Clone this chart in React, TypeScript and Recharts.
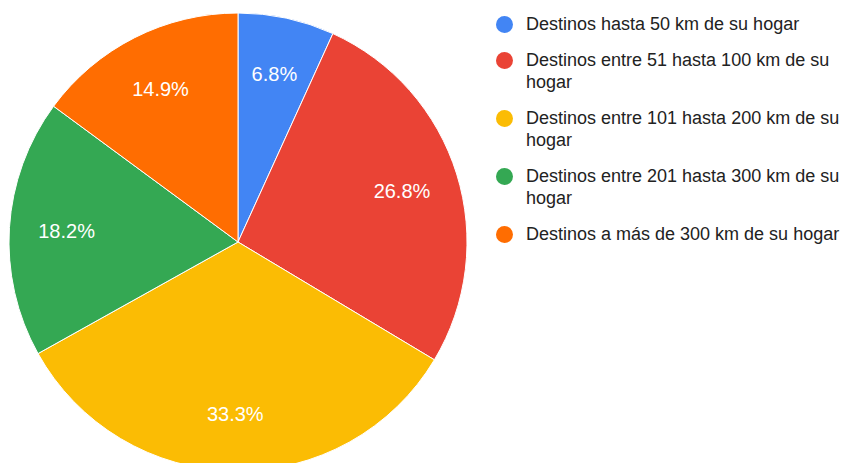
import React from 'react';
import { PieChart, Pie, Cell, Legend } from 'recharts';

const categories = [
  'Destinos hasta 50 km de su hogar',
  'Destinos entre 51 hasta 100 km de su hogar',
  'Destinos entre 101 hasta 200 km de su hogar',
  'Destinos entre 201 hasta 300 km de su hogar',
  'Destinos a más de 300 km de su hogar',
];
const shares = [6.8, 26.8, 33.3, 18.2, 14.9];
const colors = ['#4285f4', '#ea4335', '#fbbc04', '#34a853', '#ff6d01'];

const data = categories.map((name, i) => ({ name, value: shares[i], color: colors[i] }));

const RADIAN = Math.PI / 180;

const renderLabel = (props: any) => {
  const { cx, cy, midAngle, outerRadius, value } = props;
  const r = outerRadius * 0.75;
  const x = cx + r * Math.cos(-midAngle * RADIAN);
  const y = cy + r * Math.sin(-midAngle * RADIAN);
  return (
    <text
      x={x}
      y={y}
      fill="#ffffff"
      textAnchor="middle"
      dominantBaseline="central"
      fontSize={20}
      fontFamily="'Liberation Sans', Arial, sans-serif"
    >
      {value.toFixed(1)}%
    </text>
  );
};

// keep the legend in data order (Recharts sorts the payload by name)
const renderLegend = () => (
  <ul style={{ listStyle: 'none', margin: 0, padding: 0 }}>
    {data.map((entry, i) => (
      <li key={`item-${i}`} style={{ display: 'flex', alignItems: 'flex-start', marginBottom: 14 }}>
        <span
          style={{
            display: 'inline-block',
            width: 17,
            height: 17,
            borderRadius: '50%',
            background: entry.color,
            marginTop: 3,
            flexShrink: 0,
          }}
        />
        <span
          style={{
            marginLeft: 13,
            width: 322,
            fontSize: 18,
            lineHeight: '22px',
            color: '#222222',
            fontFamily: "'Liberation Sans', Arial, sans-serif",
          }}
        >
          {entry.name}
        </span>
      </li>
    ))}
  </ul>
);

export default function App() {
  return (
    <div style={{ position: 'absolute', left: 0, top: 0, width: 848, height: 463, background: '#fff' }}>
      <PieChart width={848} height={463} margin={{ top: 0, right: 0, bottom: 0, left: 0 }}>
        <Pie
          data={data}
          dataKey="value"
          nameKey="name"
          cx={238}
          cy={242}
          outerRadius={229}
          startAngle={90}
          endAngle={-270}
          stroke="#ffffff"
          strokeWidth={1}
          label={renderLabel}
          labelLine={false}
          isAnimationActive={false}
        >
          {data.map((entry, index) => (
            <Cell key={`cell-${index}`} fill={entry.color} />
          ))}
        </Pie>
        <Legend
          layout="vertical"
          align="right"
          verticalAlign="top"
          content={renderLegend}
          wrapperStyle={{ left: 496, top: 13, width: 352 }}
        />
      </PieChart>
    </div>
  );
}
